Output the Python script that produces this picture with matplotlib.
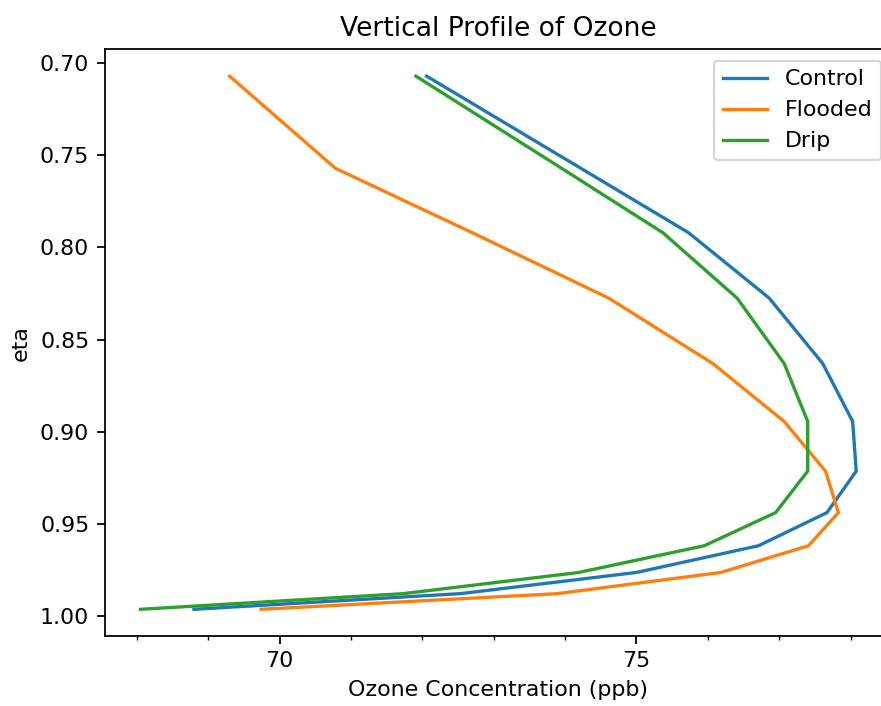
import matplotlib
matplotlib.use("Agg")
import matplotlib.pyplot as plt
from matplotlib.ticker import MultipleLocator, FormatStrFormatter

# Model half-levels (eta) and ozone concentrations (ppb) for each irrigation run
eta = [0.707, 0.757, 0.792, 0.8275, 0.863, 0.8945, 0.9215, 0.944, 0.962, 0.9765, 0.988, 0.9965]
control = [72.06, 74.22, 75.73, 76.86, 77.61, 78.03, 78.08, 77.67, 76.71, 75.00, 72.53, 68.80]
flooded = [69.30, 70.78, 72.70, 74.61, 76.07, 77.07, 77.65, 77.83, 77.41, 76.18, 73.89, 69.74]
drip = [71.91, 73.95, 75.37, 76.41, 77.07, 77.40, 77.40, 76.95, 75.95, 74.19, 71.73, 68.05]

series = [("Control", control), ("Flooded", flooded), ("Drip", drip)]

dpi = 159
fig = plt.figure(figsize=(881 / dpi, 706 / dpi), dpi=dpi)
ax = fig.add_axes([0.1188, 0.0992, 0.8937, 0.8307])

for name, values in series:
    ax.plot(values, eta, label=name)

ax.invert_yaxis()
ax.xaxis.set_major_locator(MultipleLocator(5))
ax.xaxis.set_minor_locator(MultipleLocator(1))
ax.yaxis.set_major_formatter(FormatStrFormatter("%.2f"))

ax.set_title("Vertical Profile of Ozone")
ax.set_xlabel("Ozone Concentration (ppb)")
ax.set_ylabel("eta")
ax.legend(loc="upper right")

fig.savefig("out.png", dpi=dpi)
